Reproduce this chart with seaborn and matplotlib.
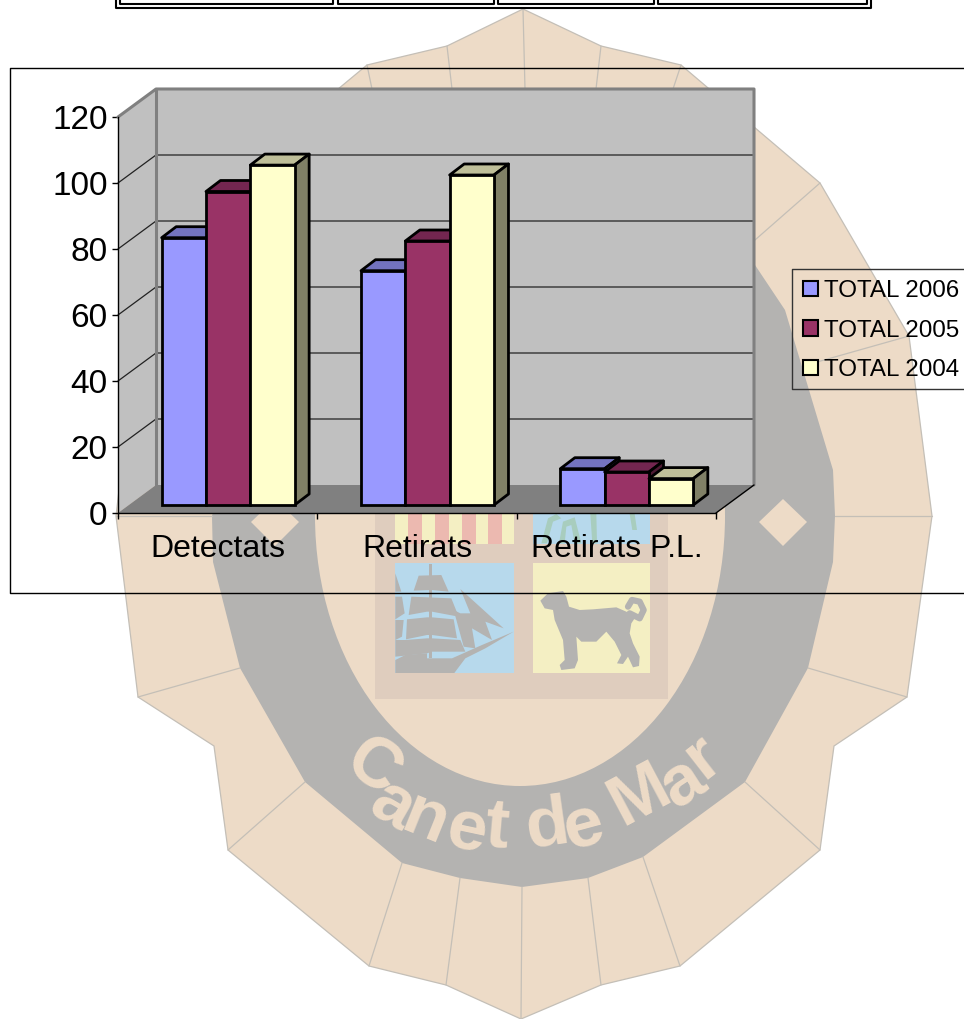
import pandas as pd
import seaborn as sns
import matplotlib
matplotlib.use("Agg")
import matplotlib.pyplot as plt
from matplotlib.patches import Ellipse, Polygon, Rectangle

categorias = ["Detectats", "Retirats", "Retirats P.L."]
series = ["TOTAL 2006", "TOTAL 2005", "TOTAL 2004"]
total_2006 = [81, 71, 11]
total_2005 = [95, 80, 10]
total_2004 = [103, 100, 8]
colores = ["#9999FF", "#993366", "#FFFFCC"]
colores_top = ["#7373BF", "#732650", "#BFBF99"]
colores_lado = ["#4D4D80", "#4D1A33", "#808066"]
ticks_y = [0, 20, 40, 60, 80, 100, 120]

W, H = 964, 1019
CREMA = "#EDDBC7"
GRIS = "#B4B3B1"
LINEA = "#C4BFB7"

sns.set_theme(style="white")
plt.rcParams["font.family"] = ["Liberation Sans", "DejaVu Sans"]

df = pd.DataFrame({
    "categoria": categorias * 3,
    "serie": [s for s in series for _ in categorias],
    "valor": total_2006 + total_2005 + total_2004,
})


def caja_px(x0, y_abajo, x1, y_arriba):
    return [x0 / W, 1 - y_abajo / H, (x1 - x0) / W, (y_abajo - y_arriba) / H]


def dibujar_escudo(ax):
    # contorno del escudo de fondo, en pixeles
    contorno = [(523, 9), (601, 46), (681, 65), (820, 183), (909, 336), (932, 516),
                (907, 697), (834, 746), (820, 850), (680, 966), (601, 985), (521, 1019),
                (446, 985), (369, 966), (228, 850), (214, 746), (138, 697), (116, 516),
                (137, 336), (225, 183), (367, 65), (447, 46)]
    ax.add_patch(Polygon(contorno, fc=CREMA, ec=LINEA, lw=0.9))

    banda = [(680, 150), (755, 265), (785, 310), (833, 470), (835, 516), (833, 562),
             (808, 668), (745, 782), (643, 857), (588, 878), (522, 887), (460, 878),
             (402, 863), (305, 782), (240, 668), (213, 562), (212, 516), (240, 400),
             (300, 300)]
    ax.add_patch(Polygon(banda, fc=GRIS, ec="none"))
    ax.add_patch(Ellipse((520, 516), 410, 540, fc=CREMA, ec="none"))

    costuras = [((447, 46), (452, 89)), ((367, 65), (372, 89)), ((523, 9), (525, 89)),
                ((601, 46), (596, 89)), ((681, 65), (673, 89)), ((820, 183), (755, 240)),
                ((909, 336), (817, 362)), ((932, 516), (835, 516)), ((116, 516), (212, 516)),
                ((907, 697), (808, 668)), ((138, 697), (240, 668)), ((820, 850), (745, 782)),
                ((228, 850), (305, 782)), ((680, 966), (643, 857)), ((601, 985), (588, 878)),
                ((521, 1019), (522, 887)), ((446, 985), (460, 878)), ((369, 966), (402, 863))]
    for a, b in costuras:
        ax.plot([a[0], b[0]], [a[1], b[1]], color=LINEA, lw=0.9)

    for cx in [275, 783]:
        ax.add_patch(Polygon([(cx, 499), (cx + 24, 522), (cx, 546), (cx - 24, 522)], fc=CREMA, ec="none"))

    # cuarteles
    ax.add_patch(Rectangle((375, 500), 293, 199, fc="#DFCDBE", ec="none"))
    ax.add_patch(Rectangle((395, 500), 119, 44, fc="#F4EFC3", ec="none"))
    for x in [408, 435, 462, 488]:
        ax.add_patch(Rectangle((x, 500), 14, 44, fc="#ECB9B0", ec="none"))
    ax.add_patch(Rectangle((533, 500), 117, 44, fc="#B7D9EC", ec="none"))
    ax.add_patch(Rectangle((395, 563), 119, 110, fc="#B7D9EC", ec="none"))
    ax.add_patch(Rectangle((533, 563), 117, 110, fc="#F4EFC3", ec="none"))

    def recorte(puntos, x0, y0):
        return [(x0 + x / 3, y0 + y / 3) for x, y in puntos]

    hojas = [[(25, 100), (45, 25), (70, 12), (85, 25), (60, 35), (42, 100)],
             [(78, 100), (90, 35), (125, 22), (145, 100), (125, 100), (115, 45), (100, 50), (95, 100)],
             [(172, 12), (190, 12), (192, 100), (178, 100)],
             [(290, 12), (305, 12), (312, 60), (298, 60)]]
    for hoja in hojas:
        ax.add_patch(Polygon(recorte(hoja, 533, 510), fc="#A8CDBE", ec="none"))

    barco = [
        [(10, 300), (40, 285), (105, 280), (105, 295), (180, 295), (270, 255), (365, 215), (280, 265),
         (220, 295), (187, 339), (10, 339)],
        [(65, 92), (80, 47), (148, 45), (170, 95), (118, 90)],
        [(10, 40), (28, 95), (10, 95)],
        [(50, 165), (58, 110), (178, 115), (200, 170), (120, 155), (105, 155)],
        [(10, 110), (30, 110), (38, 160), (10, 178)],
        [(42, 238), (45, 178), (105, 172), (120, 172), (185, 178), (195, 235), (120, 225), (105, 225)],
        [(10, 180), (35, 180), (30, 230), (10, 240)],
        [(10, 240), (40, 240), (105, 235), (120, 235), (205, 240), (220, 275), (120, 275), (105, 280), (10, 290)],
        [(112, 12), (120, 12), (120, 295), (112, 295)],
        [(205, 87), (335, 205), (280, 185), (300, 240), (240, 205), (250, 265), (215, 260), (185, 150),
         (205, 160), (235, 160)],
    ]
    for parte in barco:
        ax.add_patch(Polygon(recorte(parte, 392, 560), fc=GRIS, ec="none"))

    perro = [(22, 272), (45, 250), (90, 243), (100, 260), (108, 290), (140, 300), (180, 298), (250, 292),
             (280, 305), (305, 325), (295, 340), (290, 370), (300, 400), (320, 440), (318, 468), (300, 472),
             (285, 440), (270, 462), (252, 460), (265, 435), (245, 395), (220, 365), (190, 395), (145, 395),
             (130, 380), (135, 450), (125, 475), (85, 480), (80, 465), (95, 450), (90, 390), (65, 330),
             (60, 300), (35, 295)]
    ax.add_patch(Polygon(recorte(perro, 533, 510), fc=GRIS, ec="none"))
    cola = recorte([(290, 310), (320, 325), (332, 300), (320, 275), (297, 270), (285, 290)], 533, 510)
    ax.plot([p[0] for p in cola], [p[1] for p in cola], color=GRIS, lw=4.5, solid_capstyle="round")

    letras = [("C", 372, 769, -35), ("a", 392, 807, -30), ("n", 425, 820, -22), ("e", 466, 832, -12),
              ("t", 497, 829, -5), ("d", 547, 827, 8), ("e", 583, 828, 15), ("M", 640, 796, 28),
              ("a", 683, 784, 33), ("r", 703, 757, 38)]
    for letra, x, y, rot in letras:
        ax.text(x, y, letra, color=CREMA, fontsize=51, fontweight="bold", ha="center", va="center",
                rotation=rot, rotation_mode="anchor")


def dibujar_marcos(ax):
    # recuadro del grafico, abierto por la derecha
    ax.plot([970, 10, 10, 970], [68, 68, 593, 593], color="black", lw=1)
    # recuadro de la leyenda
    ax.plot([970, 792, 792, 970], [269, 269, 389, 389], color="#333333", lw=1)
    # resto de la tabla de arriba
    ax.plot([116, 116, 871, 871], [-5, 8, 8, -5], color="black", lw=1.5)
    for x0, x1 in [(120, 333), (338, 494), (498, 654), (658, 867)]:
        ax.plot([x0, x0, x1, x1], [-5, 4, 4, -5], color="black", lw=1.5)


def dibujar_paredes(ax):
    # fondo en perspectiva, en unidades del eje frontal
    dx = 38 / (598 / 3)
    dy = 28 / 3.3
    x0, x1 = -0.5, 2.5
    techo = ticks_y[-1]
    ax.add_patch(Rectangle((x0 + dx, dy), x1 - x0, techo, fc="#C0C0C0", ec="none", clip_on=False))
    ax.add_patch(Polygon([(x0, 0), (x0 + dx, dy), (x0 + dx, techo + dy), (x0, techo)], fc="#C0C0C0", ec="none", clip_on=False))
    ax.add_patch(Polygon([(x0, 0), (x0 + dx, dy), (x1 + dx, dy), (x1, 0)], fc="#808080", ec="none", clip_on=False))
    for t in ticks_y[1:-1]:
        ax.plot([x0, x0 + dx, x1 + dx], [t, t + dy, t + dy], color="#222222", lw=0.9, clip_on=False)
    ax.plot([x0, x0 + dx, x1 + dx, x1 + dx], [techo, techo + dy, techo + dy, dy], color="#808080", lw=2.2, clip_on=False)
    ax.plot([x0 + dx, x0 + dx], [dy, techo + dy], color="#808080", lw=2.2, clip_on=False)
    ax.plot([x1, x1 + dx], [0, dy], color="black", lw=1, clip_on=False)


fig = plt.figure(figsize=(W / 100, H / 100), dpi=100, facecolor="white")

fondo = fig.add_axes([0, 0, 1, 1], zorder=0)
fondo.set_xlim(0, W)
fondo.set_ylim(H, 0)
fondo.axis("off")
dibujar_escudo(fondo)
dibujar_marcos(fondo)

ax = fig.add_axes(caja_px(118, 513, 716, 117), zorder=1)
ax.patch.set_alpha(0)
ax.set_xlim(-0.5, 2.5)
ax.set_ylim(0, 120)
dibujar_paredes(ax)
ax.set_xticks([-0.5, 0.5, 1.5, 2.5], minor=False, labels=[])
ax.set_xticks([0, 1, 2], labels=categorias, minor=True)
ax.set_yticks(ticks_y)
ax.tick_params(axis="x", which="major", bottom=True, length=4.5, width=1, color="black", direction="out")
ax.tick_params(axis="x", which="minor", bottom=False, labelsize=23, pad=11, labelcolor="black")
ax.tick_params(axis="y", left=True, length=4.5, width=1, color="black", labelsize=24, pad=3, labelcolor="black")
ax.set_xlabel("")
ax.set_ylabel("")
for lado in ["top", "right"]:
    ax.spines[lado].set_visible(False)
for lado in ["left", "bottom"]:
    ax.spines[lado].set_color("black")
    ax.spines[lado].set_linewidth(1)

# las barras van en otros ejes, desplazados a media profundidad
ax_barras = fig.add_axes(caja_px(128.5, 505, 726.5, 109), zorder=2)
ax_barras.patch.set_alpha(0)
sns.barplot(data=df, x="categoria", y="valor", hue="serie", hue_order=series, order=categorias,
            palette=colores, width=0.667, gap=0, saturation=1, edgecolor="black", linewidth=2,
            ax=ax_barras)
ax_barras.set_xlim(-0.5, 2.5)
ax_barras.set_ylim(0, 120)
ax_barras.axis("off")

prof_x = 14.5 / (598 / 3)
prof_y = 11 / 3.3
for i, contenedor in enumerate(ax_barras.containers):
    for j, barra in enumerate(contenedor):
        x = barra.get_x()
        ancho = barra.get_width()
        alto = barra.get_height()
        z = 3 + 3 * (j * 3 + i)
        top = [(x, alto), (x + prof_x, alto + prof_y), (x + ancho + prof_x, alto + prof_y), (x + ancho, alto)]
        lado = [(x + ancho, 0), (x + ancho + prof_x, prof_y), (x + ancho + prof_x, alto + prof_y), (x + ancho, alto)]
        ax_barras.add_patch(Polygon(top, fc=colores_top[i], ec="black", lw=2, joinstyle="round", clip_on=False, zorder=z))
        ax_barras.add_patch(Polygon(lado, fc=colores_lado[i], ec="black", lw=2, joinstyle="round", clip_on=False, zorder=z))
        barra.set_zorder(z + 1)
        barra.set_clip_on(False)

handles, labels = ax_barras.get_legend_handles_labels()
ax_barras.legend(handles, labels, loc="upper left", bbox_to_anchor=(792 / W, 1 - 269 / H),
                 bbox_transform=fig.transFigure, borderaxespad=0, prop={"size": 17.4},
                 handlelength=0.62, handleheight=0.62, handletextpad=0.25, labelspacing=0.72,
                 borderpad=0.46, frameon=False, title=None, labelcolor="black")
leyenda = ax_barras.get_legend()
leyenda.set_zorder(50)
for parche in leyenda.get_patches():
    parche.set_linewidth(1.5)
    parche.set_edgecolor("black")

fig.savefig("out.png", dpi=100)
